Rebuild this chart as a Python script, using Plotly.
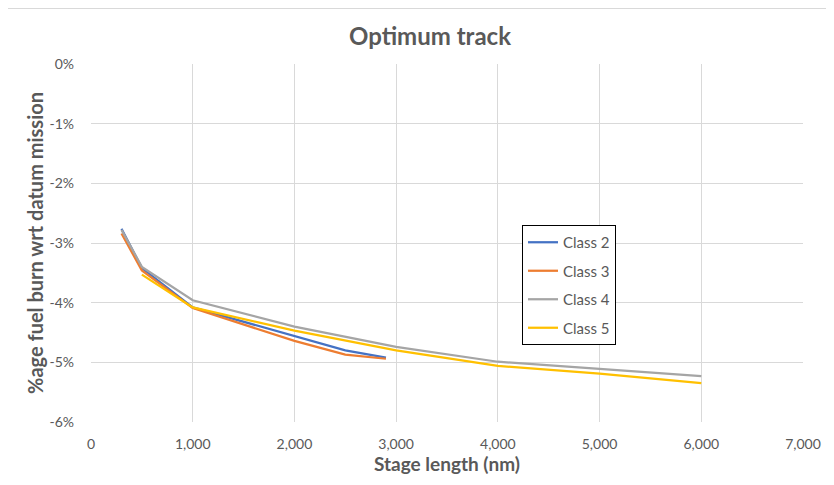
import plotly.graph_objects as go

# Data (stage length in nm, fuel burn change in %)
class2_x = [300, 500, 1000, 2000, 2500, 2900]
class2_y = [-2.76, -3.42, -4.08, -4.56, -4.80, -4.92]

class3_x = [300, 500, 1000, 2000, 2500, 2900]
class3_y = [-2.84, -3.46, -4.09, -4.64, -4.87, -4.94]

class4_x = [300, 500, 1000, 2000, 3000, 4000, 5000, 6000]
class4_y = [-2.78, -3.40, -3.96, -4.40, -4.74, -4.99, -5.11, -5.23]

class5_x = [500, 1000, 2000, 3000, 4000, 5000, 6000]
class5_y = [-3.53, -4.08, -4.47, -4.80, -5.06, -5.19, -5.35]

series_names = ["Class 2", "Class 3", "Class 4", "Class 5"]
series_colors = ["#4472C4", "#ED7D31", "#A5A5A5", "#FFC000"]

x_ticks = [0, 1000, 2000, 3000, 4000, 5000, 6000, 7000]
x_tick_labels = ["0", "1,000", "2,000", "3,000", "4,000", "5,000", "6,000", "7,000"]
y_ticks = [0, -1, -2, -3, -4, -5, -6]
y_tick_labels = ["0%", "-1%", "-2%", "-3%", "-4%", "-5%", "-6%"]

FONT = "Lato"
TXT = "#595959"

# The page body has an 8px margin, so the figure is laid out 8px smaller
OFF = 8
W, H = 834 - OFF, 485 - OFF
L, R, T, B = 91 - OFF, 803 - OFF, 64 - OFF, 422 - OFF
PW, PH = R - L, B - T

fig = go.Figure()
all_x = [class2_x, class3_x, class4_x, class5_x]
all_y = [class2_y, class3_y, class4_y, class5_y]
for i, (xs, ys) in enumerate(zip(all_x, all_y)):
    fig.add_trace(go.Scatter(
        x=xs, y=ys, mode="lines", name=series_names[i],
        legendgroup=series_names[i],
        line=dict(color=series_colors[i], width=2.25),
    ))

fig.update_layout(
    width=W, height=H,
    margin=dict(l=L, r=W - R, t=T, b=H - B, autoexpand=False),
    paper_bgcolor="white", plot_bgcolor="white",
    font=dict(family=FONT, color=TXT, size=14),
    title=dict(text="<b>Optimum track</b>", x=(430 - OFF) / W, xanchor="center",
               y=1 - (37 - OFF) / H, yanchor="middle", automargin=False,
               font=dict(family=FONT, size=24, color=TXT)),
    showlegend=True,
    legend=dict(
        x=(522 - OFF - L) / PW, y=(B - (225 - OFF)) / PH,
        xanchor="left", yanchor="top",
        bgcolor="white", bordercolor="#000000", borderwidth=1,
        font=dict(family=FONT, size=15, color=TXT),
        tracegroupgap=6, traceorder="grouped",
    ),
    xaxis=dict(
        range=[0, 7000], tickvals=x_ticks, ticktext=x_tick_labels,
        showgrid=True, gridcolor="#D9D9D9", gridwidth=1,
        zeroline=False, showline=False, ticks="", automargin=False,
        ticklabelstandoff=12,
        tickfont=dict(family=FONT, size=14, color=TXT),
        title=dict(text="<b>Stage length (nm)</b>", standoff=4,
                   font=dict(family=FONT, size=19, color=TXT)),
    ),
    yaxis=dict(
        range=[-6, 0], tickvals=y_ticks, ticktext=y_tick_labels,
        showgrid=True, gridcolor="#D9D9D9", gridwidth=1,
        zeroline=False, showline=False, ticks="", automargin=False,
        ticklabelstandoff=16,
        tickfont=dict(family=FONT, size=14, color=TXT),
        title=dict(text="<b>%age fuel burn wrt datum mission</b>", standoff=0,
                   font=dict(family=FONT, size=20, color=TXT)),
    ),
)

# chart-area border (cropped at the right and bottom like the reference)
fig.add_shape(type="rect", xref="paper", yref="paper",
              x0=(7.5 - OFF - L) / PW, x1=(845 - OFF - L) / PW,
              y0=(B - (495 - OFF)) / PH, y1=(B - (8.5 - OFF)) / PH,
              line=dict(color="#D9D9D9", width=1), fillcolor="rgba(0,0,0,0)",
              layer="below")

fig.write_html("out.html")
